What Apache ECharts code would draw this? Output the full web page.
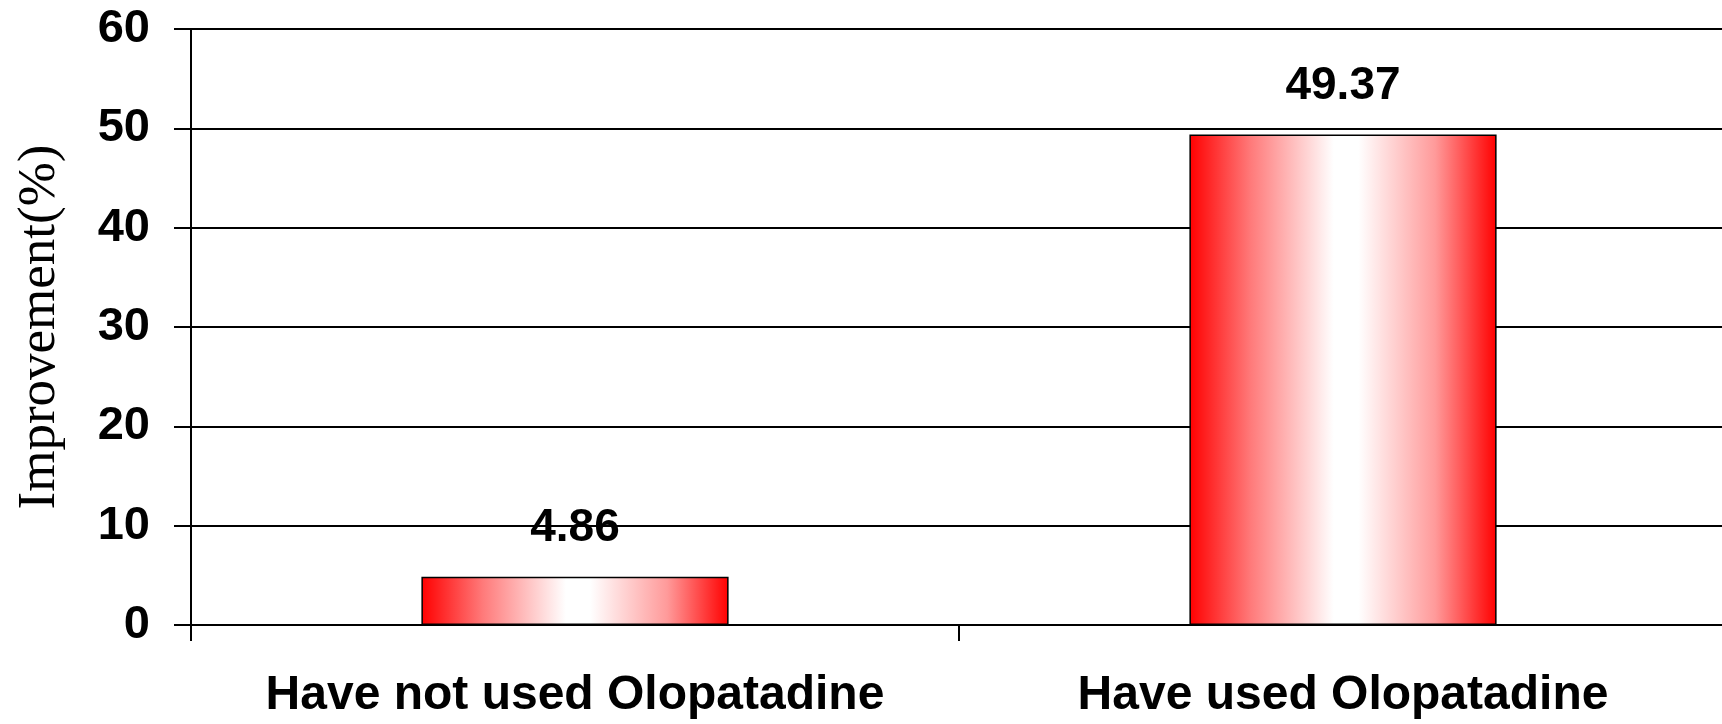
<!DOCTYPE html>
<html>
<head>
<meta charset="utf-8">
<script src="https://cdn.jsdelivr.net/npm/echarts@6/dist/echarts.min.js"></script>
<style>
  html, body { margin: 0; padding: 0; background: #ffffff; overflow: hidden; }
  #chart { width: 1722px; height: 724px; }
</style>
</head>
<body>
<div id="chart"></div>
<script>
const categories = ['Have not used Olopatadine', 'Have used Olopatadine'];
const improvement = [4.86, 49.37];
const yAxisTitle = 'Improvement(%)';

const chart = echarts.init(document.getElementById('chart'), null, { renderer: 'canvas' });
const boldFont = { fontFamily: 'Liberation Sans, Arial, sans-serif', fontWeight: 'bold', fontSize: 46, color: '#000000' };

chart.setOption({
  animation: false,
  backgroundColor: '#ffffff',
  grid: { left: 191, top: 29, bottom: 99, right: -5, containLabel: false, outerBoundsMode: 'none' },
  xAxis: {
    type: 'category',
    data: categories,
    axisLine: { show: true, lineStyle: { color: '#000000', width: 2 } },
    axisTick: { show: true, length: 16, alignWithLabel: false, lineStyle: { color: '#000000', width: 2 } },
    axisLabel: Object.assign({ margin: 47, interval: 0 }, boldFont, { fontSize: 48 }),
    splitLine: { show: false }
  },
  yAxis: {
    type: 'value',
    min: 0, max: 60, interval: 10,
    name: yAxisTitle,
    nameLocation: 'middle',
    nameRotate: 90,
    nameGap: 124,
    nameMoveOverlap: false,
    nameTextStyle: { fontFamily: 'Liberation Serif, Times New Roman, serif', fontSize: 53, color: '#000000', fontWeight: 'normal' },
    axisLine: { show: true, lineStyle: { color: '#000000', width: 2 } },
    axisTick: { show: true, length: 17, lineStyle: { color: '#000000', width: 2 } },
    axisLabel: Object.assign({ margin: 41 }, boldFont, { fontSize: 47 }),
    splitLine: { show: true, lineStyle: { color: '#000000', width: 2 } }
  },
  series: [{
    type: 'bar',
    data: improvement,
    barWidth: '40%',
    itemStyle: {
      borderColor: '#000000',
      borderWidth: 1.5,
      color: new echarts.graphic.LinearGradient(0, 0, 1, 0, [
        { offset: 0, color: '#ff0000' },
        { offset: 0.2, color: '#ff7a7a' },
        { offset: 0.47, color: '#ffffff' },
        { offset: 0.55, color: '#ffffff' },
        { offset: 0.8, color: '#ff9a9a' },
        { offset: 1, color: '#ff0000' }
      ])
    },
    label: Object.assign({ show: true, position: 'top', distance: 25 }, boldFont)
  }]
});
</script>
</body>
</html>
